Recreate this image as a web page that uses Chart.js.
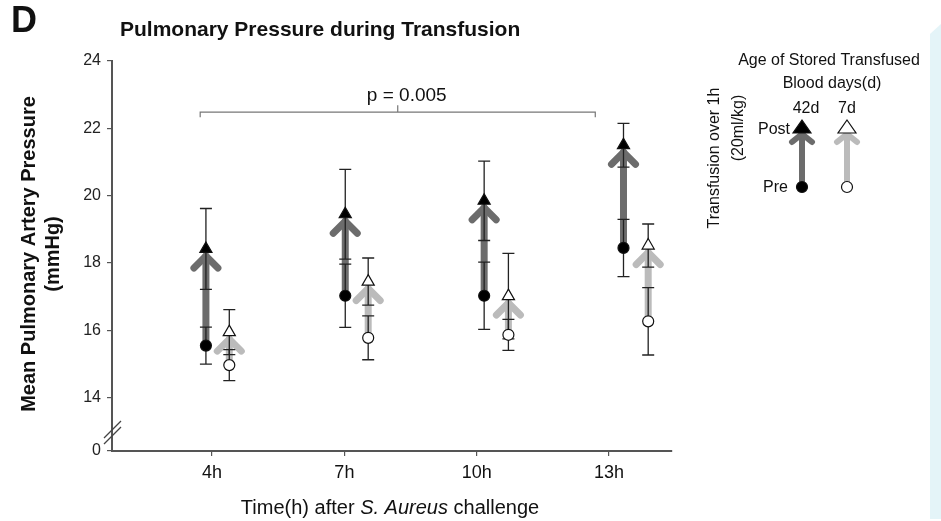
<!DOCTYPE html>
<html>
<head>
<meta charset="utf-8">
<script src="https://cdn.jsdelivr.net/npm/chart.js@4"></script>
<style>
  body { margin: 0; background: #fff; }
  canvas { display: block; }
</style>
</head>
<body>
<canvas id="chart" width="941" height="521"></canvas>
<script>
const FONT = "'Liberation Sans', Arial, sans-serif"

// time points after challenge
const timeLabels = ['4h', '7h', '10h', '13h']
const timeHours = [4, 7, 10, 13]
// where each group sits on the time axis
const xDark = [3.86, 7.02, 10.17, 13.33]
const xLight = [4.39, 7.54, 10.72, 13.89]

// 42 day stored blood (mean, error)
const pre42 = [15.55, 17.03, 17.03, 18.45]
const pre42Err = [0.55, 0.94, 1.0, 0.85]
const post42 = [18.42, 19.45, 19.85, 21.5]
const post42Err = [1.2, 1.33, 1.18, 0.65]

// 7 day stored blood (mean, error)
const pre7 = [14.97, 15.78, 15.87, 16.27]
const pre7Err = [0.46, 0.65, 0.46, 1.0]
const post7 = [15.95, 17.45, 17.02, 18.52]
const post7Err = [0.67, 0.7, 1.27, 0.64]

// y axis is broken: bottom value is shown as "0"
const yBreak = 12.42
const yTicks = [yBreak, 14, 16, 18, 20, 22, 24]

// significance bracket
const bracketFrom = 3.73
const bracketTo = 12.69
const bracketY = 22.48
const pText = 'p = 0.005'

const darkGray = 'rgb(108,108,108)'
const lightGray = 'rgb(187,187,187)'

function pts(xs, ys) {
    return xs.map((x, i) => ({ x: x, y: ys[i] }))
}

function drawArrow(c, x, y0, y1, color, w, armX, armY) {
    c.save()
    c.strokeStyle = color
    c.lineWidth = w
    c.lineCap = 'round'
    c.lineJoin = 'round'
    c.beginPath()
    c.moveTo(x, y0)
    c.lineTo(x, y1)
    c.stroke()
    c.beginPath()
    c.moveTo(x - armX, y1 + armY)
    c.lineTo(x, y1)
    c.lineTo(x + armX, y1 + armY)
    c.stroke()
    c.restore()
}

function drawErr(c, x, yTop, yBot) {
    c.save()
    c.strokeStyle = '#222'
    c.lineWidth = 1.3
    c.beginPath()
    c.moveTo(x, yTop); c.lineTo(x, yBot)
    c.moveTo(x - 6, yTop); c.lineTo(x + 6, yTop)
    c.moveTo(x - 6, yBot); c.lineTo(x + 6, yBot)
    c.stroke()
    c.restore()
}

const figurePlugin = {
    id: 'figure',
    beforeDraw(chart) {
        const c = chart.ctx
        c.save()
        c.fillStyle = '#fff'
        c.fillRect(0, 0, chart.width, chart.height)
        // light blue panel at the right edge
        c.fillStyle = 'rgb(228,244,248)'
        c.beginPath()
        c.moveTo(930, 34)
        c.lineTo(941, 24)
        c.lineTo(941, 519)
        c.lineTo(930, 519)
        c.closePath()
        c.fill()
        c.restore()
    },
    beforeDatasetsDraw(chart) {
        const c = chart.ctx
        const xs = chart.scales.x, ys = chart.scales.y
        const groups = [
            [xDark, pre42, pre42Err, post42, post42Err, darkGray],
            [xLight, pre7, pre7Err, post7, post7Err, lightGray]
        ]
        for (const g of groups) {
            const [gx, pre, preE, post, postE, col] = g
            for (let i = 0; i < gx.length; i++) {
                const px = xs.getPixelForValue(gx[i])
                const yPre = ys.getPixelForValue(pre[i])
                const yPost = ys.getPixelForValue(post[i])
                drawArrow(c, px, yPre, yPost + 7, col, 7, 12, 12)
                drawErr(c, px, ys.getPixelForValue(post[i] + postE[i]), ys.getPixelForValue(post[i] - postE[i]))
                drawErr(c, px, ys.getPixelForValue(pre[i] + preE[i]), ys.getPixelForValue(pre[i] - preE[i]))
            }
        }
    },
    afterDraw(chart) {
        const c = chart.ctx
        const xs = chart.scales.x, ys = chart.scales.y
        c.save()
        c.fillStyle = '#111'
        c.textBaseline = 'middle'

        // panel letter and title
        c.font = 'bold 36px ' + FONT
        c.textAlign = 'left'
        c.fillText('D', 11, 22)
        c.font = 'bold 21px ' + FONT
        c.fillText('Pulmonary Pressure during Transfusion', 120, 30)

        // y axis title
        c.save()
        c.translate(29, 254)
        c.rotate(-Math.PI / 2)
        c.textAlign = 'center'
        c.font = 'bold 20px ' + FONT
        c.fillText('Mean Pulmonary Artery Pressure', 0, 0)
        c.fillText('(mmHg)', 0, 24)
        c.restore()

        // x axis title with italic species name
        const parts = [['Time(h) after ', ''], ['S. Aureus', 'italic '], [' challenge', '']]
        let total = 0
        for (const p of parts) { c.font = p[1] + '20px ' + FONT; total += c.measureText(p[0]).width }
        let tx = 390 - total / 2
        c.textAlign = 'left'
        for (const p of parts) {
            c.font = p[1] + '20px ' + FONT
            c.fillText(p[0], tx, 508)
            tx += c.measureText(p[0]).width
        }

        // axis break marks
        c.strokeStyle = '#444'
        c.lineWidth = 1.3
        c.beginPath()
        c.moveTo(104, 438); c.lineTo(121, 421)
        c.moveTo(104, 444); c.lineTo(121, 427)
        c.stroke()

        // significance bracket
        const bx0 = xs.getPixelForValue(bracketFrom)
        const bx1 = xs.getPixelForValue(bracketTo)
        const by = ys.getPixelForValue(bracketY)
        c.strokeStyle = '#777'
        c.lineWidth = 1.2
        c.beginPath()
        c.moveTo(bx0, by + 5); c.lineTo(bx0, by); c.lineTo(bx1, by); c.lineTo(bx1, by + 5)
        c.moveTo((bx0 + bx1) / 2, by); c.lineTo((bx0 + bx1) / 2, by - 7)
        c.stroke()
        c.fillStyle = '#111'
        c.font = '19px ' + FONT
        c.textAlign = 'center'
        c.fillText(pText, (bx0 + bx1) / 2 + 9, by - 16)

        // legend
        c.font = '16px ' + FONT
        c.fillText('Age of Stored Transfused', 829, 61)
        c.fillText('Blood days(d)', 832, 84)
        c.fillText('42d', 806, 109)
        c.fillText('7d', 847, 109)
        c.textAlign = 'right'
        c.fillText('Post', 790, 130)
        c.fillText('Pre', 788, 188)
        c.save()
        c.textAlign = 'center'
        c.translate(715, 158)
        c.rotate(-Math.PI / 2)
        c.fillText('Transfusion over 1h', 0, 0)
        c.fillText('(20ml/kg)', 30, 24)
        c.restore()

        drawArrow(c, 802, 186, 134, darkGray, 6, 10, 8)
        drawArrow(c, 847, 186, 134, lightGray, 6, 10, 8)
        // legend markers
        c.lineWidth = 1.2
        c.strokeStyle = '#111'
        c.beginPath()
        c.moveTo(802, 120); c.lineTo(811, 133); c.lineTo(793, 133); c.closePath()
        c.fillStyle = '#000'; c.fill(); c.stroke()
        c.beginPath()
        c.moveTo(847, 120); c.lineTo(856, 133); c.lineTo(838, 133); c.closePath()
        c.fillStyle = '#fff'; c.fill(); c.stroke()
        c.beginPath(); c.arc(802, 187, 5.5, 0, Math.PI * 2)
        c.fillStyle = '#000'; c.fill(); c.stroke()
        c.beginPath(); c.arc(847, 187, 5.5, 0, Math.PI * 2)
        c.fillStyle = '#fff'; c.fill(); c.stroke()
        c.restore()
    }
}

const ctx = document.getElementById('chart').getContext('2d')

const pointCommon = { showLine: false, borderWidth: 1.2, borderColor: '#111', hoverRadius: 0 }

const chart = new Chart(ctx, {
    type: 'scatter',
    data: {
        datasets: [
            { ...pointCommon, label: '42d Pre', data: pts(xDark, pre42), pointStyle: 'circle', pointRadius: 5.5, backgroundColor: '#000' },
            { ...pointCommon, label: '42d Post', data: pts(xDark, post42), pointStyle: 'triangle', pointRadius: 7, backgroundColor: '#000' },
            { ...pointCommon, label: '7d Pre', data: pts(xLight, pre7), pointStyle: 'circle', pointRadius: 5.5, backgroundColor: '#fff' },
            { ...pointCommon, label: '7d Post', data: pts(xLight, post7), pointStyle: 'triangle', pointRadius: 7, backgroundColor: '#fff' }
        ]
    },
    options: {
        responsive: false,
        animation: false,
        layout: { padding: { left: 0, right: 269, top: 61, bottom: 0 } },
        plugins: { legend: { display: false }, tooltip: { enabled: false } },
        scales: {
            x: {
                type: 'linear',
                min: 1.73,
                max: 14.43,
                afterBuildTicks: (s) => { s.ticks = timeHours.map(v => ({ value: v })) },
                afterFit: (s) => { s.height = 70 },
                ticks: {
                    callback: (v) => timeLabels[timeHours.indexOf(v)],
                    font: { family: FONT, size: 18 },
                    color: '#111',
                    padding: 6
                },
                grid: { drawOnChartArea: false, tickLength: 5, color: '#555', lineWidth: 1.2 },
                border: { color: '#555', width: 2 }
            },
            y: {
                min: yBreak,
                max: 24,
                afterBuildTicks: (s) => { s.ticks = yTicks.map(v => ({ value: v })) },
                afterFit: (s) => { s.width = 112 },
                ticks: {
                    callback: (v) => v === yBreak ? '0' : v,
                    font: { family: FONT, size: 16 },
                    color: '#222',
                    padding: 6
                },
                grid: { drawOnChartArea: false, tickLength: 5, color: '#555', lineWidth: 1.2 },
                border: { color: '#555', width: 2 }
            }
        }
    },
    plugins: [figurePlugin]
})
</script>
</body>
</html>
